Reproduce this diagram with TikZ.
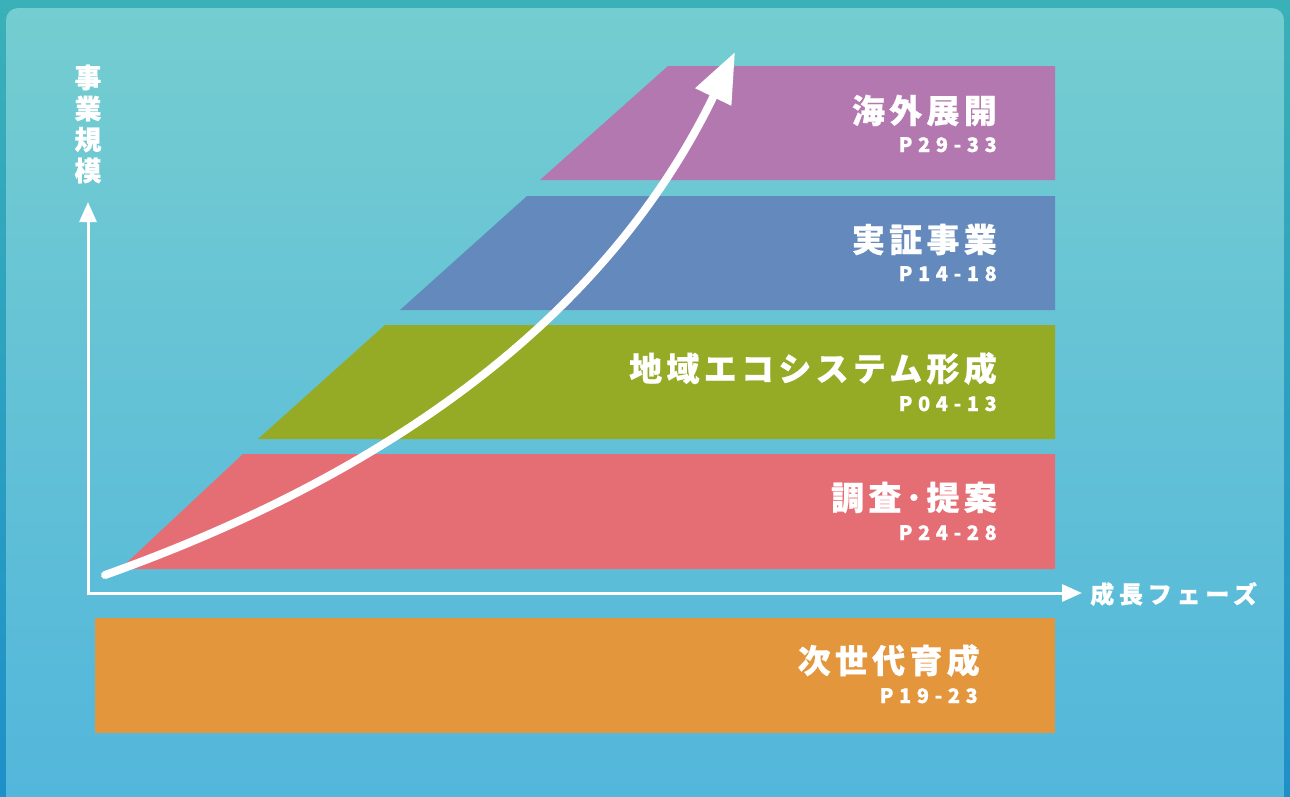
\documentclass[tikz,border=0pt]{standalone}
\usepackage{fontspec}
\newfontfamily\jpfont[LetterSpace=13, BoldFeatures={FakeBold=0.6}]{Noto Sans CJK JP}
\newfontfamily\axfont[LetterSpace=20, BoldFeatures={FakeBold=0.6}]{Noto Sans CJK JP}
\newfontfamily\pgfont[LetterSpace=28, BoldFeatures={FakeBold=0.8}]{Noto Sans CJK JP}
\usetikzlibrary{arrows.meta}
\definecolor{outertop}{HTML}{3AB0B8}
\definecolor{outerbot}{HTML}{1E90C8}
\definecolor{innertop}{HTML}{74CDD0}
\definecolor{innerbot}{HTML}{52B6DC}
\definecolor{bandpurple}{HTML}{B478B0}
\definecolor{bandblue}{HTML}{6489BC}
\definecolor{bandgreen}{HTML}{95AB25}
\definecolor{bandred}{HTML}{E46E74}
\definecolor{bandorange}{HTML}{E3963C}
\tikzset{
  title/.style={anchor=base east, text=white, font=\jpfont\bfseries\fontsize{33}{33}\selectfont, inner sep=0pt},
  pages/.style={anchor=base east, text=white, font=\pgfont\bfseries\fontsize{20}{20}\selectfont, inner sep=0pt},
  axislabel/.style={text=white, font=\axfont\bfseries\fontsize{24}{24}\selectfont, inner sep=0pt},
  axis/.style={white, line width=3pt, -{Triangle[width=17pt,length=20pt]}}
}
\begin{document}
\begin{tikzpicture}[x=1pt,y=-1pt]
\useasboundingbox (0,0) rectangle (1290,796);
% background
\shade [top color=outertop, bottom color=outerbot] (0,0) rectangle (1290,796);
\shade [top color=innertop, bottom color=innerbot, rounded corners=12pt] (6,8) rectangle (1284,820);
% bands
\fill [bandpurple] (668,66) -- (1055,66) -- (1055,180) -- (540,180) -- cycle;
\fill [bandblue] (527,196) -- (1055,196) -- (1055,310) -- (400,310) -- cycle;
\fill [bandgreen] (385,325) -- (1055,325) -- (1055,439) -- (258,439) -- cycle;
\fill [bandred] (243,454) -- (1055,454) -- (1055,569) -- (120,569) -- cycle;
\fill [bandorange] (95,618) rectangle (1055,733);
% band labels
\node [title] (kaigai) at (997,123) {海外展開};
\node [pages] (kaigaip) at (997,152) {P29-33};
\node [title] (jissho) at (997,252) {実証事業};
\node [pages] (jisshop) at (997,281) {P14-18};
\node [title] (chiiki) at (997,381) {地域エコシステム形成};
\node [pages] (chiikip) at (997,411) {P04-13};
\node [title] (chosa) at (997,510) {調査･提案};
\node [pages] (chosap) at (997,540) {P24-28};
\node [title] (jisedai) at (980,673) {次世代育成};
\node [pages] (jisedaip) at (978,703) {P19-23};
% axes
\coordinate (origin) at (88,593);
\coordinate (ytop) at (88,202);
\coordinate (xend) at (1082,593);
\draw [axis] (88,595) -- (ytop);
\draw [axis] (86.5,593) -- (xend);
\node [axislabel, align=center, font=\jpfont\bfseries\fontsize{27}{31}\selectfont] (scale) at (88,124) {事\\業\\規\\模};
\node [axislabel, anchor=west] (phase) at (1090,594) {成長フェーズ};
% growth arrow
\coordinate (start) at (105,575);
\coordinate (tip) at (735,52);
\draw [white, line width=8pt, line cap=round, -{Triangle[width=38pt,length=50pt]}]
  (start) .. controls (400,470) and (610,310) .. (tip);
\end{tikzpicture}
\end{document}
